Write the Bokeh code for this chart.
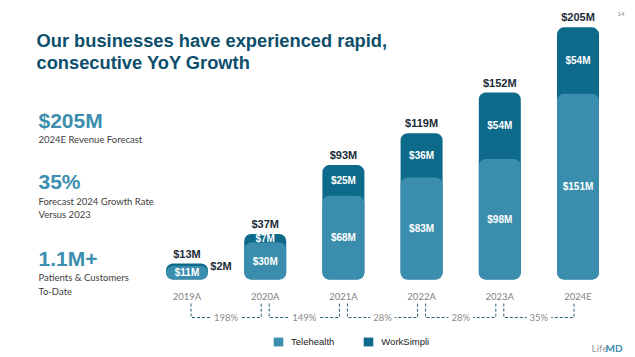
from bokeh.plotting import figure
from bokeh.models import Range1d, Label, Legend, LegendItem, ColumnDataSource
from bokeh.core.properties import value
from bokeh.embed import file_html
from bokeh.resources import INLINE

# ---- data ----
years = ["2019A", "2020A", "2021A", "2022A", "2023A", "2024E"]
telehealth = [11, 30, 68, 83, 98, 151]
worksimpli = [2, 7, 25, 36, 54, 54]
growth = ["198%", "149%", "28%", "28%", "35%"]
kpi_values = ["$205M", "35%", "1.1M+"]
kpi_notes = [["2024E Revenue Forecast"],
             ["Forecast 2024 Growth Rate", "Versus 2023"],
             ["Patients & Customers", "To-Date"]]
title_lines = ["Our businesses have experienced rapid,", "consecutive YoY Growth"]

# ---- styles ----
TELE = "#3A8DAD"
WS = "#0E6A8A"
TITLE_C = "#0C4E6B"
DARK = "#1C2B36"
GRAY = "#7F7F7F"
SUB = "#404040"

totals = [t + w for t, w in zip(telehealth, worksimpli)]
idx = list(range(len(years)))

W, H = 635, 357
X0, DX = 186.5, 78.2     # pixel layout of the category axis
Y0, DY = 279.0, 1.23     # pixel layout of the value axis


def X(px):
    return (px - X0) / DX


def Y(py):
    return (Y0 - py) / DY


p = figure(width=W, height=H, x_range=Range1d(X(0), X(W)),
           y_range=Range1d(Y(H), Y(0)), output_backend="svg",
           toolbar_location=None, min_border=0, title=None,
           x_axis_location=None, y_axis_location=None)
p.grid.visible = False
p.outline_line_color = None
p.background_fill_color = "white"
p.border_fill_color = "white"

BW = 42 / DX

src = ColumnDataSource(dict(x=idx, tele=telehealth, ws=worksimpli, tot=totals,
                            year=years,
                            tele_lab=["$%dM" % v for v in telehealth],
                            tot_lab=["$%dM" % v for v in totals],
                            tele_mid=[t / 2 for t in telehealth]))

r_ws = p.vbar(x="x", top="tot", bottom=0, width=BW, source=src, fill_color=WS,
              line_color=None, border_radius=7)
r_tele = p.vbar(x="x", top="tele", bottom=0, width=BW, source=src, fill_color=TELE,
                line_color=None, border_radius=7)

# segment labels
p.text(x="x", y="tele_mid", text="tele_lab", source=src, text_color="white",
       text_font=value("Liberation Sans"), text_font_style="bold",
       text_font_size="10px", text_align="center", text_baseline="middle")
big_ws = [i for i in idx if worksimpli[i] >= 5]
small_ws = [i for i in idx if worksimpli[i] < 5]
p.text(x=big_ws, y=[telehealth[i] + worksimpli[i] / 2 for i in big_ws],
       text=["$%dM" % worksimpli[i] for i in big_ws], text_color="white",
       text_font=value("Liberation Sans"), text_font_style="bold",
       text_font_size="10px", text_align="center", text_baseline="middle")
p.text(x=small_ws, y=[totals[i] for i in small_ws],
       text=["$%dM" % worksimpli[i] for i in small_ws], text_color=DARK,
       text_font=value("Liberation Sans"), text_font_style="bold",
       text_font_size="11px", text_align="center", text_baseline="middle",
       x_offset=34, y_offset=2)
# totals
p.text(x="x", y="tot", text="tot_lab", source=src, text_color=DARK,
       text_font=value("Liberation Sans"), text_font_style="bold",
       text_font_size="11px", text_align="center", text_baseline="middle",
       y_offset=-10)
# year labels
p.text(x="x", y=0, text="year", source=src, text_color=GRAY,
       text_font=value("Lato"), text_font_size="9.5px", text_align="center",
       text_baseline="middle", y_offset=17)

# growth brackets
top_b = Y(303)
bot_b = Y(317)
off = 4 / DX
xs, ys = [], []
for i in range(len(growth)):
    xs.append([i + off, i + off, i + 1 - off, i + 1 - off])
    ys.append([top_b, bot_b, bot_b, top_b])
p.multi_line(xs=xs, ys=ys, line_color="#2B5F75", line_width=1, line_dash="3 2")
p.text(x=[i + 0.5 for i in range(len(growth))], y=[bot_b] * len(growth), text=growth,
       text_color="#8A8A8A", text_font=value("Lato"), text_font_size="9.5px",
       text_align="center", text_baseline="middle",
       background_fill_color="white", padding=3)

# legend
legend = Legend(items=[LegendItem(label="Telehealth", renderers=[r_tele]),
                       LegendItem(label="WorkSimpli", renderers=[r_ws])],
                orientation="horizontal", location=(272, 10),
                glyph_width=12, glyph_height=11, label_standoff=7, spacing=28,
                padding=0, margin=0, border_line_color=None,
                background_fill_alpha=0, label_text_font="Liberation Sans",
                label_text_font_size="9.5px", label_text_color="#222222")
p.add_layout(legend, "center")


def label(px, py, txt, font, size, color, style="normal"):
    p.add_layout(Label(x=X(px), y=Y(py), text=txt, text_font=font,
                       text_font_style=style, text_font_size=size,
                       text_color=color, text_baseline="middle"))


# title
for txt, py in zip(title_lines, [40, 62]):
    label(36, py, txt, "Liberation Sans", "18.3px", TITLE_C, "bold")

# KPIs
big_y = [120, 181, 258]
note_y = [[139], [201, 214], [277, 291]]
for v, notes, by, nys in zip(kpi_values, kpi_notes, big_y, note_y):
    label(38, by, v, "Liberation Sans", "21px", "#3C8EAE", "bold")
    for n, ny in zip(notes, nys):
        label(38, ny, n, "Lato", "9.5px", SUB)

# page number and logo
label(617, 13, "14", "Lato", "6px", "#888888")
label(591, 347, "Life", "Lato", "10px", "#9A9A9A")
label(605, 347, "MD", "Lato", "10px", "#3C8EAE", "bold")

open("out.html", "w").write(file_html(p, INLINE))
